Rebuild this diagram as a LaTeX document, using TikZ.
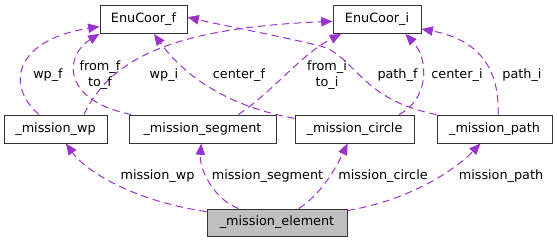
\documentclass[tikz,border=0pt]{standalone}
\usepackage{fontspec}
\setmainfont{DejaVu Sans}
\usetikzlibrary{arrows.meta}
\definecolor{edgepurple}{HTML}{9A32CD}
\definecolor{boxgray}{HTML}{BFBFBF}

\begin{document}
\begin{tikzpicture}[x=0.75pt, y=-0.75pt,
class/.style={draw=black!80, line width=.75pt, fill=white, inner sep=0, minimum height=21pt, font=\fontsize{9.6}{11}\selectfont},
member/.style={draw=edgepurple, line width=.75pt, dash pattern=on 5.5pt off 3.5pt, -{Triangle[length=8.5pt, width=7pt]}},
label/.style={inner sep=0, align=center, font=\fontsize{9.6}{11.5}\selectfont},
]
\useasboundingbox (0,0) rectangle (557,243);

%%%%%%%%%%%%%%%%%%%%%%%% CLASSES %%%%%%%%%%%%%%%%%%%%%%%%%%%
\node[class, minimum width=65.25pt] (EnuF) at (143.5,19.5) {EnuCoor\_f};
\node[class, minimum width=66pt] (EnuI) at (377,19.5) {EnuCoor\_i};

\node[class, minimum width=77.25pt] (MissionWp) at (55.5,129) {\_mission\_wp};
\node[class, minimum width=110.25pt] (MissionSegment) at (202.5,129) {\_mission\_segment};
\node[class, minimum width=89.25pt] (MissionCircle) at (354.5,129) {\_mission\_circle};
\node[class, minimum width=86.25pt] (MissionPath) at (494.5,129) {\_mission\_path};

\node[class, fill=boxgray, minimum width=105pt, minimum height=20.25pt] (MissionElement) at (277,222.5) {\_mission\_element};

%%%%%%%%%%%%%%%%%%%%%%%% ELEMENT MEMBERS %%%%%%%%%%%%%%%%%%%%%%%%%%%
\draw[member] (MissionElement) .. controls (130,200) and (85,170) .. (MissionWp);
\draw[member] (MissionElement) .. controls (215,200) and (199,170) .. (MissionSegment);
\draw[member] (MissionElement) .. controls (320,195) and (335,170) .. (MissionCircle);
\draw[member] (MissionElement) .. controls (410,200) and (455,170) .. (MissionPath);

\node[label] (LblMissionWp) at (157.5,176) {mission\_wp};
\node[label] (LblMissionSegment) at (267.5,176) {mission\_segment};
\node[label] (LblMissionCircle) at (383,176) {mission\_circle};
\node[label] (LblMissionPath) at (501,176) {mission\_path};

%%%%%%%%%%%%%%%%%%%%%%%% COORDINATE MEMBERS %%%%%%%%%%%%%%%%%%%%%%%%%%%
\draw[member] (MissionWp) .. controls (5,85) and (15,40) .. (EnuF);
\draw[member] (MissionSegment) .. controls (60,100) and (65,55) .. (EnuF.198);
\draw[member] (MissionWp.27) .. controls (110,60) and (170,28) .. (EnuI);
\draw[member] (MissionCircle) .. controls (220,105) and (180,70) .. (EnuF);
\draw[member] (MissionPath.166) .. controls (360,100) and (355,55) .. (320,46)
                              .. controls (285,37) and (230,27) .. (EnuF.3);
\draw[member] (MissionSegment.22) .. controls (275,90) and (300,55) .. (EnuI.202);
\draw[member] (MissionCircle.18) .. controls (428,100) and (430,60) .. (EnuI.-27);
\draw[member] (MissionPath.76) .. controls (500,60) and (470,38) .. (EnuI.-12);

\node[label] (LblWpF) at (48,75) {wp\_f};
\node[label] (LblFromF) at (100,75) {from\_f\\to\_f};
\node[label] (LblWpI) at (164,75) {wp\_i};
\node[label] (LblCenterF) at (239,75) {center\_f};
\node[label] (LblFromI) at (327,75) {from\_i\\to\_i};
\node[label] (LblPathF) at (397.5,75) {path\_f};
\node[label] (LblCenterI) at (457,75) {center\_i};
\node[label] (LblPathI) at (522,75) {path\_i};
\end{tikzpicture}
\end{document}
